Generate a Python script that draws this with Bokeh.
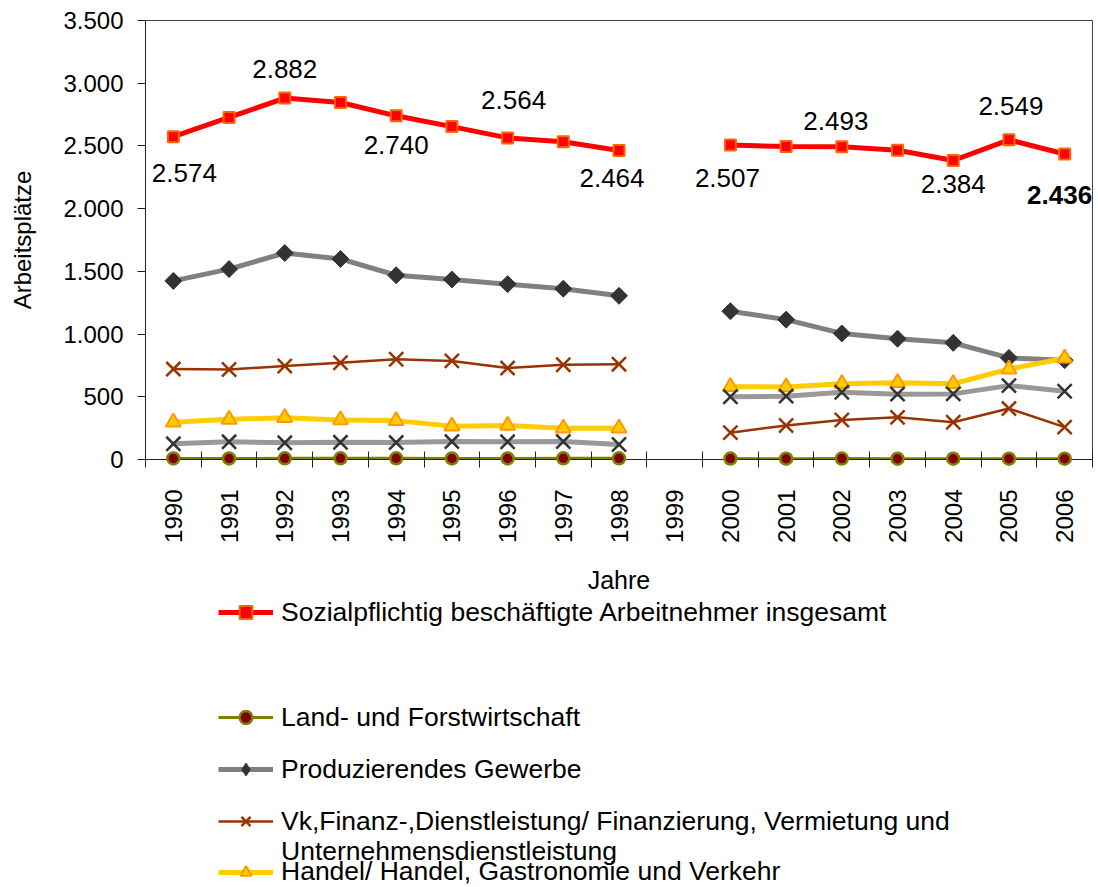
import math
from bokeh.plotting import figure
from bokeh.layouts import column
from bokeh.core.properties import value
from bokeh.models import (ColumnDataSource, Range1d, FixedTicker, CustomJSTickFormatter,
                          Legend, LegendItem, LabelSet)
from bokeh.embed import file_html
from bokeh.resources import INLINE

nan = float("nan")

years = ["1990", "1991", "1992", "1993", "1994", "1995", "1996", "1997", "1998",
         "1999", "2000", "2001", "2002", "2003", "2004", "2005", "2006"]

total = [2574, 2727, 2882, 2846, 2740, 2654, 2564, 2534, 2464, nan,
         2507, 2495, 2493, 2465, 2384, 2549, 2436]
land = [8, 8, 9, 9, 9, 8, 8, 9, 9, nan, 7, 6, 7, 6, 6, 6, 6]
produz = [1424, 1518, 1646, 1599, 1469, 1435, 1398, 1362, 1305, nan,
          1182, 1115, 1005, 963, 930, 810, 792]
vk = [721, 718, 745, 771, 799, 786, 729, 755, 760, nan,
      214, 271, 315, 336, 297, 406, 258]
handel = [297, 320, 333, 315, 310, 266, 271, 250, 250, nan,
          581, 578, 604, 612, 604, 721, 807]
other = [125, 141, 133, 137, 135, 143, 141, 143, 120, nan,
         500, 505, 536, 521, 523, 589, 544]

names = {
    "total": "Sozialpflichtig beschäftigte Arbeitnehmer insgesamt",
    "land": "Land- und Forstwirtschaft",
    "produz": "Produzierendes Gewerbe",
    "vk1": "Vk,Finanz-,Dienstleistung/ Finanzierung, Vermietung und",
    "vk2": "Unternehmensdienstleistung",
    "handel": "Handel/ Handel, Gastronomie und Verkehr",
}

# which points of the total series carry a value label
label_idx = [0, 2, 4, 6, 8, 10, 12, 14, 15, 16]
# label placement (style): screen offsets in px (x right, y up)
label_dx = [11, 0, 0, 6, -7, -3, -6, 0, 2, -5]
label_dy = [-36, 29, -29, 38, -28, -33, 26, -24, 34, -41]
label_style = ["normal"] * 9 + ["bold"]

FONT = "Liberation Sans"
xs = list(range(len(years)))

# series styles: line color, line width, marker, size, fill, outline, outline width, angle
styles = {
    "land": ("#808000", 3, "circle", 12, "#800000", "#808000", 2.5, 0.0),
    "produz": ("#808080", 5, "square", 12, "#333333", "#333333", 1, math.pi / 4),
    "produz_lg": ("#808080", 5, "diamond", 16, "#333333", "#333333", 1, 0.0),
    "vk": ("#993300", 2.5, "x", 20, None, "#993300", 2.5, 0.0),
    "handel": ("#FFCC00", 5, "triangle", 15, "#FFCC00", "#FF9900", 2, 0.0),
    "other": ("#999999", 5, "x", 20, None, "#333333", 2.5, 0.0),
    "total": ("#FF0000", 5, "square", 11, "#FF0000", "#FF6600", 2, 0.0),
}

sources = {k: ColumnDataSource(dict(x=xs, y=v)) for k, v in
           [("land", land), ("produz", produz), ("vk", vk), ("handel", handel),
            ("other", other), ("total", total)]}

W = 1098
H1 = 596
H2 = 887 - H1

p = figure(width=W, height=H1, output_backend="svg", toolbar_location=None,
           x_range=Range1d(-0.5, len(years) - 0.5), y_range=Range1d(0, 3500),
           min_border_left=145, min_border_right=6, min_border_top=20,
           min_border_bottom=128)
p.background_fill_color = "white"
p.border_fill_color = "white"
p.outline_line_color = "#404040"
p.xgrid.visible = False
p.ygrid.visible = False

def series(fig, key, src_key=None, level=None, visible=True):
    lc, lw, marker, size, fill, outline, olw, angle = styles[key]
    src = sources[src_key or key]
    lr = fig.line("x", "y", source=src, line_color=lc, line_width=lw)
    sr = fig.scatter("x", "y", source=src, marker=marker, size=size, fill_color=fill,
                     line_color=outline, line_width=olw, angle=angle)
    if level:
        sr.level = level
    lr.visible = visible
    sr.visible = visible
    return lr, sr

series(p, "land", level="overlay")
series(p, "produz")
series(p, "vk")
series(p, "handel")
series(p, "other")
series(p, "total")

# value labels
lab_src = ColumnDataSource(dict(
    x=[xs[i] for i in label_idx],
    y=[total[i] for i in label_idx],
    text=[f"{total[i]:,}".replace(",", ".") for i in label_idx],
    dx=label_dx, dy=label_dy, st=label_style))
labels = LabelSet(x="x", y="y", text="text", source=lab_src, x_offset="dx", y_offset="dy",
                  text_font=value(FONT), text_font_size=value("26px"), text_font_style="st",
                  text_align="center", text_baseline="middle", text_color="black")
p.add_layout(labels)

# axes
yax = p.yaxis[0]
yax.ticker = FixedTicker(ticks=[0, 500, 1000, 1500, 2000, 2500, 3000, 3500])
yax.formatter = CustomJSTickFormatter(
    code="return tick.toString().replace(/\\B(?=(\\d{3})+(?!\\d))/g, '.');")
yax.major_tick_out = 8
yax.major_tick_in = 0
yax.minor_tick_out = 0
yax.minor_tick_in = 0
yax.major_label_standoff = 14
yax.major_label_text_font = FONT
yax.major_label_text_font_size = "24px"
yax.major_label_text_color = "black"
yax.axis_line_color = "#222222"
yax.major_tick_line_color = "#222222"
yax.axis_label = "Arbeitsplätze"
yax.axis_label_text_font = FONT
yax.axis_label_text_font_size = "24px"
yax.axis_label_text_font_style = "normal"
yax.axis_label_text_color = "black"
yax.axis_label_standoff = 24

xax = p.xaxis[0]
xax.ticker = FixedTicker(ticks=xs, minor_ticks=[i - 0.5 for i in range(len(years) + 1)])
xax.major_label_overrides = {i: y for i, y in enumerate(years)}
xax.major_label_orientation = math.pi / 2
xax.major_tick_out = 0
xax.major_tick_in = 0
xax.minor_tick_out = 8
xax.minor_tick_in = 8
xax.minor_tick_line_color = "#222222"
xax.major_label_standoff = 22
xax.major_label_text_font = FONT
xax.major_label_text_font_size = "24px"
xax.major_label_text_color = "black"
xax.axis_line_color = "#222222"
xax.axis_label = "Jahre"
xax.axis_label_text_font = FONT
xax.axis_label_text_font_size = "25px"
xax.axis_label_text_font_style = "normal"
xax.axis_label_text_color = "black"
xax.axis_label_standoff = 20

# legend panel (second figure directly under the chart; its frame is aligned with the chart's)
q = figure(width=W, height=H2, output_backend="svg", toolbar_location=None,
           x_range=Range1d(-0.5, len(years) - 0.5), y_range=Range1d(10000, 10001),
           x_axis_type=None, y_axis_type=None,
           min_border_left=0, min_border_right=0, min_border_top=0, min_border_bottom=0)
q.outline_line_color = None
q.background_fill_color = "white"
q.border_fill_color = "white"
q.xgrid.visible = False
q.ygrid.visible = False

lg_total = series(q, "total", visible=False)
lg_land = series(q, "land", visible=False)
lg_prod = series(q, "produz_lg", src_key="produz", visible=False)
lg_vk = series(q, "vk", visible=False)
lg_handel = series(q, "handel", visible=False)
lg_blank = q.line("x", "y", source=sources["land"], line_alpha=0)
lg_blank.visible = False

def make_legend(items, loc, lh=32):
    lg = Legend(items=items, location=loc, orientation="vertical", padding=0, margin=0,
                border_line_alpha=0, background_fill_alpha=0,
                label_text_font=FONT, label_text_font_size="26.5px", label_text_color="black",
                glyph_width=55, glyph_height=lh, label_height=lh, label_standoff=8,
                spacing=20, click_policy="none")
    q.add_layout(lg)
    return lg

LX = 73
make_legend([LegendItem(label=names["total"], renderers=list(lg_total))], (LX, 259))
make_legend([LegendItem(label=names["land"], renderers=list(lg_land)),
             LegendItem(label=names["produz"], renderers=list(lg_prod)),
             LegendItem(label=names["vk1"], renderers=list(lg_vk))], (LX, 50))
make_legend([LegendItem(label=names["vk2"], renderers=[lg_blank])], (LX, 20))
make_legend([LegendItem(label=names["handel"], renderers=list(lg_handel))], (LX, 0), lh=28)

layout = column(p, q, spacing=0)
open("out.html", "w").write(file_html(layout, INLINE))
